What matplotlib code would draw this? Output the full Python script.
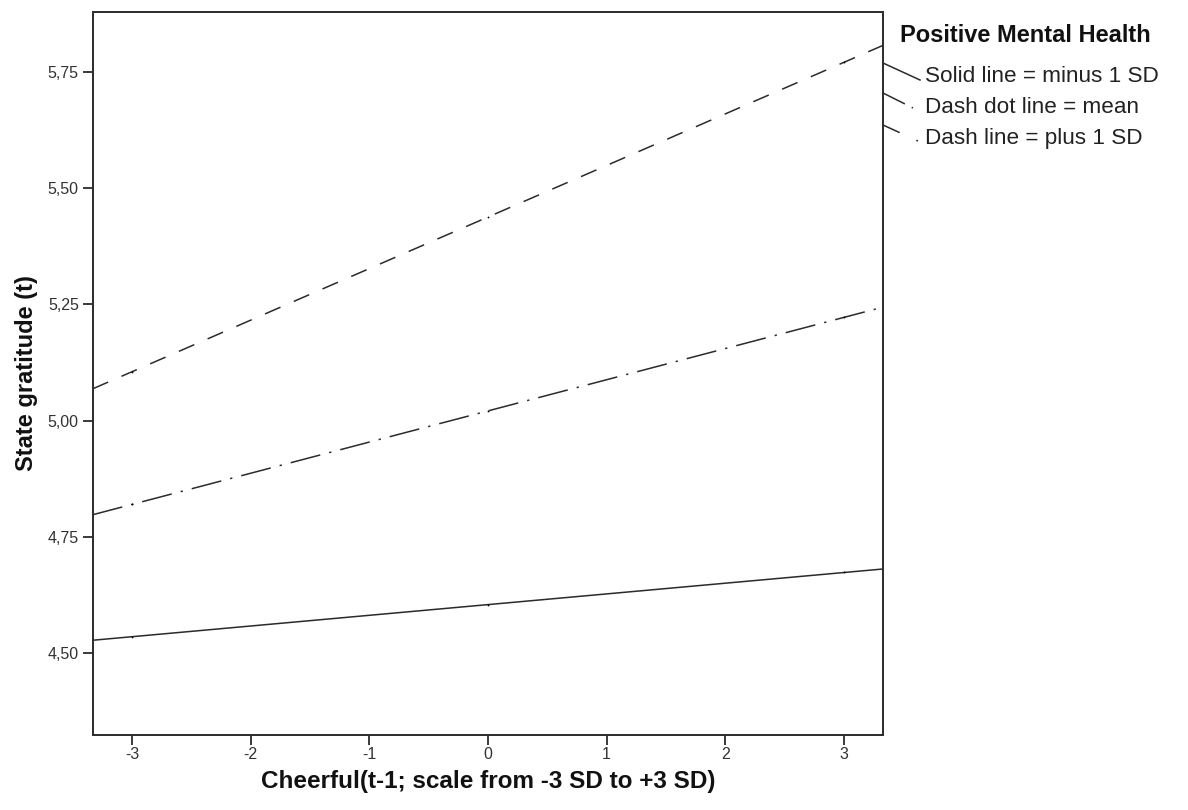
import numpy as np
import matplotlib.pyplot as plt
from matplotlib.lines import Line2D

plt.rcParams['font.family'] = ['Liberation Sans', 'DejaVu Sans']

# predicted values at -3, 0, +3 SD of Cheerful(t-1)
x = [-3, 0, 3]
minus_sd = [4.536, 4.604, 4.674]
mean_sd = [4.820, 5.021, 5.222]
plus_sd = [5.105, 5.438, 5.770]

xticks = [-3, -2, -1, 0, 1, 2, 3]
yticks = [4.50, 4.75, 5.00, 5.25, 5.50, 5.75]

W, H = 1188, 810
fig = plt.figure(figsize=(W / 100, H / 100), dpi=100)
ax = fig.add_axes([92.7 / W, 1 - 734.5 / H, (883 - 92.7) / W, (734.5 - 12.3) / H])

col = '#2b2b2b'
xmin, xmax = -3.331, 3.329
xe = np.array([xmin, xmax])
styles = ['-', (0, (20, 6, 1.5, 6)), (0, (11, 9.5))]
for ys, ls in zip([minus_sd, mean_sd, plus_sd], styles):
    k, b = np.polyfit(x, ys, 1)
    ax.plot(xe, k * xe + b, color=col, lw=1.1, linestyle=ls)
    ax.plot(x, ys, linestyle='none', marker='o', ms=1.3, mew=0, color='#000000')

ax.set_xlim(xmin, xmax)
ax.set_ylim(4.3255, 5.8777)
ax.set_xticks(xticks)
ax.set_xticklabels([str(t) for t in xticks])
ax.set_yticks(yticks)
ax.set_yticklabels([f'{t:.2f}'.replace('.', ',') for t in yticks])
ax.tick_params(labelsize=11.5, length=7, width=1.3, color=col, labelcolor='#333333', pad=3)
ax.tick_params(axis='x', pad=2)
for s in ax.spines.values():
    s.set_linewidth(1.4)
    s.set_color(col)

ax.set_xlabel('Cheerful(t-1; scale from -3 SD to +3 SD)', fontsize=17.5, fontweight='bold', labelpad=6, color='#111111')
ax.set_ylabel('State gratitude (t)', fontsize=17, fontweight='bold', labelpad=7, color='#111111')

# legend drawn beside the plot, SPSS-style
def fx(px):
    return px / W

def fy(py):
    return 1 - py / H

fig.text(fx(900), fy(42), 'Positive Mental Health', fontsize=17, fontweight='bold', va='baseline', color='#111111')
entries = [('Solid line = minus 1 SD', '-', (63, 80), 920, 82),
           ('Dash dot line = mean', (0, (16, 5, 1.5, 10)), (93, 108), 913, 113),
           ('Dash line = plus 1 SD', (0, (12, 12)), (125, 141), 918, 144)]
for label, ls, (y0, y1), x1, base in entries:
    fig.add_artist(Line2D([fx(883), fx(x1)], [fy(y0), fy(y1)], color=col, lw=1.1, linestyle=ls))
    fig.text(fx(925), fy(base), label, fontsize=16.2, va='baseline', color='#222222')

fig.savefig('out.png', dpi=100)
